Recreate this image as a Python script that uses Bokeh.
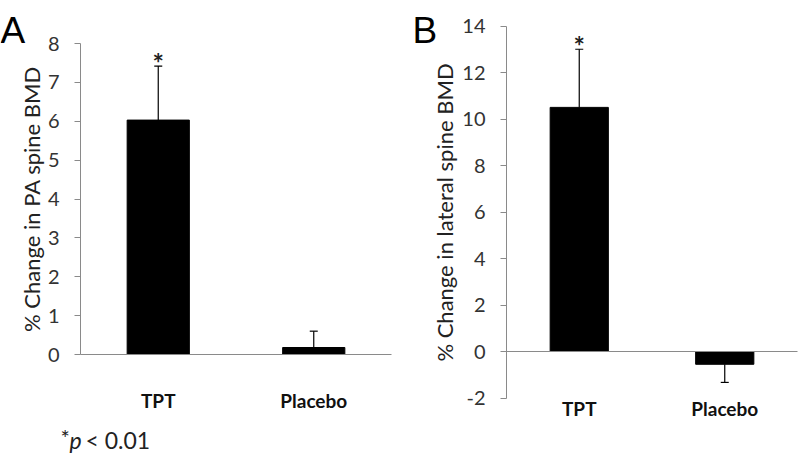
from bokeh.plotting import figure
from bokeh.layouts import row
from bokeh.models import (ColumnDataSource, Range1d, Label, FixedTicker, LinearAxis)
from bokeh.embed import file_html
from bokeh.resources import INLINE
from bokeh.core.properties import value

# ---- data ----
categories = ["TPT", "Placebo"]
pa_mean = [6.03, 0.18]
pa_err = [1.39, 0.42]
lat_mean = [10.5, -0.55]
lat_err = [2.5, 0.78]
significance = ["*", ""]
pa_ticks = [0, 1, 2, 3, 4, 5, 6, 7, 8]
lat_ticks = [-2, 0, 2, 4, 6, 8, 10, 12, 14]
pa_label = "% Change in PA spine BMD"
lat_label = "% Change in lateral spine BMD"

FONT = "Lato"
AXIS_GRAY = "#8a8a8a"
TICK_TXT = "#333333"
W, H = 400, 458


def make_panel(means, errs, ticks, ylabel, xrange_, yrange_, ybounds, xlab_standoff, ylab_standoff):
    xpos = list(range(len(categories)))
    ends = [m + (e if m >= 0 else -e) for m, e in zip(means, errs)]
    src = ColumnDataSource(dict(x=xpos, mean=means, end=ends, sig=significance))
    p = figure(x_range=Range1d(*xrange_), y_range=Range1d(*yrange_),
               x_axis_type=None, y_axis_type=None,
               width=W, height=H, output_backend="svg", toolbar_location=None,
               min_border=0, min_border_left=0, min_border_right=0,
               min_border_top=0, min_border_bottom=0)
    p.outline_line_color = None

    p.vbar(x="x", top="mean", bottom=0, width=0.4, source=src,
           fill_color="black", line_color="black", line_width=1)
    p.segment(x0="x", y0="mean", x1="x", y1="end", source=src,
              line_color="black", line_width=1.2)
    p.scatter(x="x", y="end", source=src, marker="dash", size=8,
              line_color="black", line_width=1.2)
    p.text(x="x", y="end", text="sig", source=src, text_align="center",
           text_baseline="alphabetic", text_font=value(FONT),
           text_font_size="27px", text_font_style="bold",
           text_color="#222222", y_offset=-4)

    ya = LinearAxis(fixed_location=-0.5, bounds=ybounds,
                    ticker=FixedTicker(ticks=ticks),
                    major_label_overrides={t: str(t) for t in ticks})
    ya.axis_line_color = AXIS_GRAY
    ya.major_tick_line_color = AXIS_GRAY
    ya.major_tick_out = 6
    ya.major_tick_in = 0
    ya.minor_tick_line_color = None
    ya.major_label_text_font = FONT
    ya.major_label_text_font_size = "20px"
    ya.major_label_text_color = TICK_TXT
    ya.major_label_standoff = 15
    ya.axis_label = ylabel
    ya.axis_label_text_font = FONT
    ya.axis_label_text_font_size = "22px"
    ya.axis_label_text_font_style = "normal"
    ya.axis_label_text_color = "#222222"
    ya.axis_label_standoff = ylab_standoff
    p.add_layout(ya, "left")

    xa = LinearAxis(fixed_location=0, bounds=(-0.5, len(categories) - 0.5),
                    ticker=FixedTicker(ticks=xpos),
                    major_label_overrides={i: c for i, c in zip(xpos, categories)})
    xa.axis_line_color = AXIS_GRAY
    xa.major_tick_line_color = None
    xa.minor_tick_line_color = None
    xa.major_label_standoff = xlab_standoff
    xa.major_label_text_font = FONT
    xa.major_label_text_font_size = "19px"
    xa.major_label_text_font_style = "bold"
    xa.major_label_text_color = "#111111"
    p.add_layout(xa, "below")
    return p


# Panel A: y=0 at 354 px, 38.875 px/unit ; x: 155.5 px per category, TPT at 157.75 px
a_ppu, a_zero = 38.875, 354
a_cpx, a_c0 = 155.5, 157.75
pa = make_panel(pa_mean, pa_err, pa_ticks, pa_label,
                (-a_c0 / a_cpx, (W - a_c0) / a_cpx),
                (-(H - a_zero) / a_ppu, a_zero / a_ppu),
                (0, 8), 28, 0)
pa.add_layout(Label(x=0, y=30, x_units="canvas", y_units="canvas", text="A",
                    text_font="Liberation Sans", text_font_size="37px",
                    text_baseline="alphabetic", text_color="black"))
pa.add_layout(Label(x=60, y=437, x_units="canvas", y_units="canvas", text="*",
                    text_font=FONT, text_font_size="22px",
                    text_baseline="middle", text_color="#222222"))
pa.add_layout(Label(x=69, y=439, x_units="canvas", y_units="canvas", text="p",
                    text_font=FONT, text_font_size="23px", text_font_style="italic",
                    text_baseline="middle", text_color="#222222"))
pa.add_layout(Label(x=85, y=439, x_units="canvas", y_units="canvas", text="< 0.01",
                    text_font=FONT, text_font_size="23px",
                    text_baseline="middle", text_color="#222222"))

# Panel B: y=0 at 351 px, 23.25 px/unit ; x: 145.5 px per category, TPT at 178.75 px
b_ppu, b_zero = 23.25, 351
b_cpx, b_c0 = 145.5, 178.75
pb = make_panel(lat_mean, lat_err, lat_ticks, lat_label,
                (-b_c0 / b_cpx, (W - b_c0) / b_cpx),
                (-(H - b_zero) / b_ppu, b_zero / b_ppu),
                (-2, 14), 39, 1)
pb.add_layout(Label(x=12, y=30, x_units="canvas", y_units="canvas", text="B",
                    text_font="Liberation Sans", text_font_size="37px",
                    text_baseline="alphabetic", text_color="black"))

layout = row(pa, pb, spacing=0)

open("out.html", "w").write(file_html(layout, INLINE))
